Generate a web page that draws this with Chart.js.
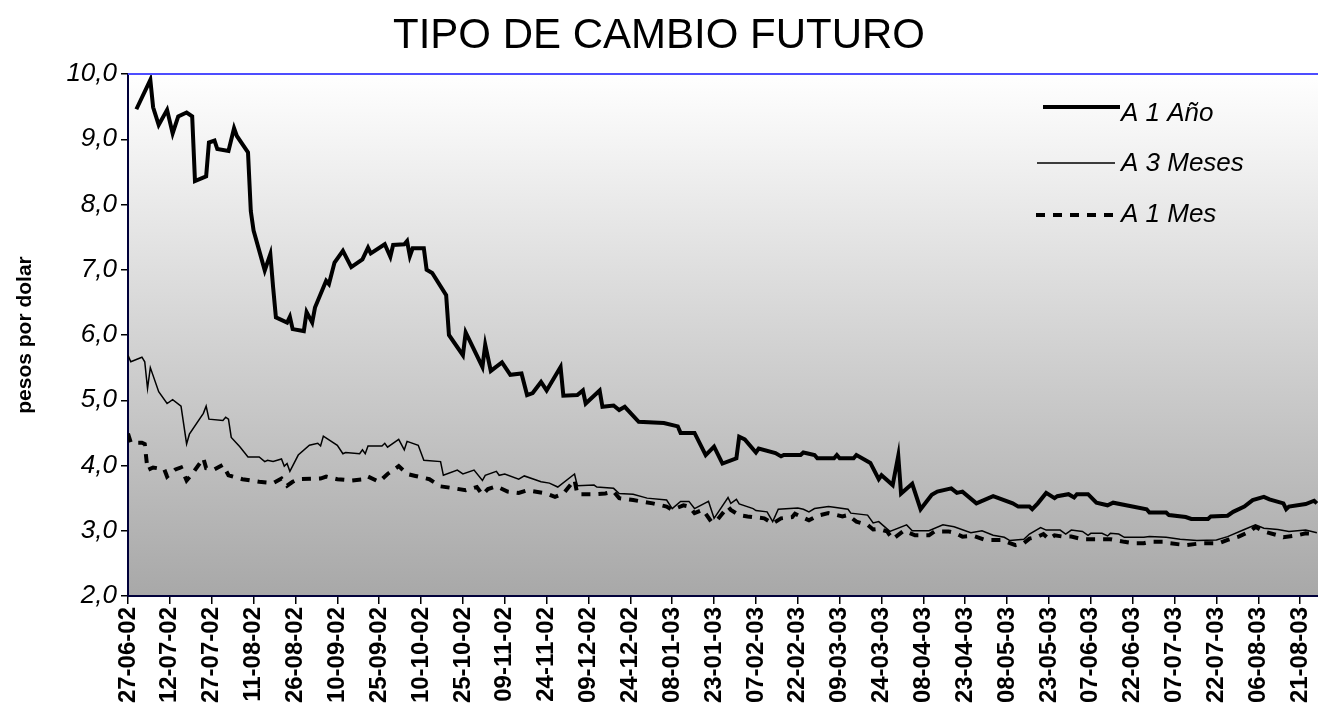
<!DOCTYPE html>
<html>
<head>
<meta charset="utf-8">
<title>Tipo de cambio futuro</title>
<script src="https://cdn.jsdelivr.net/npm/chart.js@4.4.1/dist/chart.umd.min.js"></script>
<style>
    html, body { margin: 0; padding: 0; background: #ffffff; }
    canvas { display: block; }
</style>
</head>
<body>
<canvas id="tipoCambioChart" width="1318" height="717"></canvas>
<script>
const titulo = "TIPO DE CAMBIO FUTURO";
const tituloEje = "pesos por dolar";

// etiquetas del eje x, una cada 15 dias desde el 27-06-02
const etiquetasFecha = [
    "27-06-02", "12-07-02", "27-07-02", "11-08-02", "26-08-02", "10-09-02",
    "25-09-02", "10-10-02", "25-10-02", "09-11-02", "24-11-02", "09-12-02",
    "24-12-02", "08-01-03", "23-01-03", "07-02-03", "22-02-03", "09-03-03",
    "24-03-03", "08-04-03", "23-04-03", "08-05-03", "23-05-03", "07-06-03",
    "22-06-03", "07-07-03", "22-07-03", "06-08-03", "21-08-03"
];

const nombresSeries = ["A 1 Año", "A 3 Meses", "A 1 Mes"];

// [dias desde 27-06-02, pesos por dolar]
const serieAnio = [
    [3,9.46],[8,9.91],[9,9.49],[11,9.22],[14,9.45],[16,9.09],[18,9.35],[21,9.41],[23,9.35],[24,8.36],
    [28,8.43],[29,8.95],[31,8.98],[32,8.85],[36,8.82],[38,9.17],[39,9.05],[43,8.80],[44,7.90],[45,7.60],
    [49,6.99],[51,7.24],[52,6.73],[53,6.27],[57,6.19],[58,6.28],[59,6.09],[63,6.06],[64,6.35],[66,6.19],
    [67,6.42],[71,6.83],[72,6.78],[74,7.11],[77,7.29],[80,7.04],[84,7.16],[86,7.34],[87,7.25],[92,7.39],
    [94,7.20],[95,7.38],[99,7.39],[100,7.44],[101,7.21],[102,7.33],[106,7.33],[107,7.00],[109,6.95],[114,6.61],
    [115,6.00],[120,5.69],[121,6.04],[127,5.51],[128,5.85],[130,5.45],[134,5.58],[137,5.39],[141,5.41],[143,5.08],
    [145,5.11],[148,5.28],[150,5.15],[155,5.51],[156,5.07],[161,5.08],[163,5.15],[164,4.95],[169,5.15],[170,4.90],
    [174,4.92],[176,4.85],[178,4.90],[183,4.67],[192,4.65],[197,4.60],[198,4.50],[203,4.50],[207,4.16],[210,4.29],
    [213,4.03],[218,4.11],[219,4.44],[221,4.40],[225,4.20],[226,4.26],[232,4.19],[234,4.14],[235,4.16],[241,4.16],
    [242,4.20],[246,4.16],[247,4.11],[253,4.11],[254,4.16],[255,4.11],[260,4.11],[261,4.16],[266,4.04],[269,3.79],
    [270,3.85],[274,3.70],[276,4.15],[277,3.57],[281,3.72],[284,3.33],[288,3.55],[290,3.60],[295,3.65],[297,3.58],
    [299,3.60],[304,3.42],[310,3.53],[317,3.42],[319,3.37],[323,3.37],[324,3.33],[326,3.42],[329,3.58],[332,3.50],
    [333,3.53],[337,3.56],[339,3.51],[340,3.56],[344,3.56],[347,3.43],[351,3.39],[353,3.43],[359,3.38],[365,3.33],
    [366,3.28],[372,3.28],[373,3.24],[379,3.21],[381,3.18],[387,3.18],[388,3.22],[394,3.23],[396,3.29],[400,3.37],
    [403,3.47],[407,3.52],[409,3.48],[414,3.42],[415,3.33],[416,3.37],[422,3.41],[425,3.46],[426,3.42]
];

const serieTresMeses = [
    [0,5.69],[1,5.59],[5,5.66],[6,5.59],[7,5.18],[8,5.50],[11,5.13],[14,4.95],[16,5.01],[19,4.91],
    [21,4.33],[22,4.48],[27,4.80],[28,4.91],[29,4.71],[34,4.69],[35,4.74],[36,4.71],[37,4.43],[40,4.29],
    [43,4.13],[47,4.13],[49,4.06],[50,4.08],[52,4.06],[55,4.10],[56,3.99],[57,4.03],[58,3.91],[61,4.16],
    [65,4.31],[68,4.34],[69,4.30],[70,4.45],[75,4.31],[77,4.18],[78,4.20],[83,4.18],[84,4.24],[85,4.18],
    [86,4.30],[91,4.30],[92,4.34],[93,4.28],[97,4.40],[99,4.24],[100,4.37],[104,4.31],[106,4.08],[112,4.06],
    [113,3.85],[118,3.93],[120,3.87],[124,3.93],[127,3.77],[128,3.85],[132,3.91],[133,3.85],[135,3.87],[140,3.79],
    [142,3.84],[148,3.75],[151,3.73],[154,3.67],[160,3.87],[161,3.69],[167,3.70],[168,3.67],[174,3.65],[176,3.57],
    [181,3.56],[186,3.50],[193,3.47],[195,3.34],[198,3.45],[201,3.45],[203,3.34],[208,3.45],[210,3.19],[215,3.51],
    [216,3.42],[218,3.48],[219,3.41],[224,3.34],[225,3.31],[229,3.29],[231,3.14],[233,3.33],[240,3.35],[242,3.33],
    [244,3.29],[246,3.34],[251,3.37],[253,3.36],[258,3.33],[259,3.27],[265,3.24],[267,3.12],[269,3.14],[273,2.99],
    [279,3.09],[281,3.00],[287,3.00],[292,3.09],[296,3.06],[302,2.97],[306,3.00],[310,2.93],[314,2.90],[316,2.85],
    [321,2.87],[323,2.95],[327,3.05],[329,3.01],[334,3.01],[336,2.95],[338,3.01],[342,2.99],[344,2.93],[345,2.96],
    [349,2.96],[351,2.92],[352,2.96],[355,2.95],[357,2.90],[364,2.90],[366,2.91],[372,2.90],[377,2.87],[383,2.85],
    [390,2.86],[394,2.91],[400,3.02],[404,3.09],[407,3.04],[412,3.02],[416,2.99],[422,3.01],[426,2.97]
];

const serieUnMes = [
    [0,4.49],[1,4.35],[5,4.35],[6,4.33],[7,3.93],[9,3.97],[13,3.94],[14,3.83],[17,3.94],[19,3.97],
    [21,3.77],[23,3.87],[27,4.11],[28,3.96],[31,3.94],[34,4.01],[36,3.85],[41,3.79],[47,3.75],[52,3.73],
    [55,3.80],[57,3.69],[59,3.75],[61,3.79],[69,3.80],[71,3.83],[75,3.79],[80,3.77],[85,3.79],[86,3.83],
    [90,3.75],[93,3.87],[97,3.99],[100,3.87],[103,3.84],[105,3.82],[108,3.79],[112,3.68],[117,3.65],[121,3.62],
    [125,3.67],[127,3.55],[129,3.64],[132,3.68],[136,3.60],[140,3.58],[143,3.62],[150,3.57],[153,3.52],[156,3.57],
    [160,3.78],[161,3.56],[167,3.56],[171,3.57],[174,3.60],[176,3.50],[181,3.47],[188,3.42],[193,3.37],[195,3.32],
    [199,3.39],[201,3.37],[203,3.27],[206,3.32],[209,3.14],[211,3.16],[215,3.37],[216,3.32],[219,3.24],[222,3.22],
    [228,3.19],[231,3.11],[234,3.19],[238,3.21],[239,3.26],[244,3.16],[247,3.23],[251,3.27],[256,3.22],[258,3.24],
    [261,3.14],[265,3.09],[267,3.02],[269,3.03],[272,2.99],[274,2.87],[278,3.00],[282,2.93],[287,2.93],[289,2.99],
    [294,2.99],[296,2.97],[299,2.91],[303,2.92],[307,2.86],[313,2.86],[316,2.81],[318,2.78],[321,2.81],[323,2.88],
    [326,2.91],[328,2.95],[330,2.87],[332,2.93],[335,2.91],[338,2.91],[342,2.87],[352,2.87],[357,2.83],[360,2.81],
    [364,2.81],[366,2.83],[371,2.83],[373,2.81],[379,2.78],[385,2.81],[391,2.81],[394,2.86],[398,2.91],[402,2.99],
    [404,3.06],[407,2.99],[412,2.93],[414,2.90],[419,2.93],[422,2.96],[426,2.95]
];

const FUENTE = '"Liberation Sans", Arial, Helvetica, sans-serif';

function toPoints(serie){
    return serie.map(p => ({ x: p[0], y: p[1] }));
}

// fondo degradado del area de trazado y borde superior azul
const fondoPlugin = {
    id: 'fondo',
    beforeDraw(chart){
        const { ctx, chartArea: a } = chart;
        const g = ctx.createLinearGradient(0, a.top, 0, a.bottom);
        g.addColorStop(0, '#ffffff');
        g.addColorStop(1, '#a8a8a8');
        ctx.save();
        ctx.fillStyle = g;
        ctx.fillRect(a.left, a.top, a.right - a.left, a.bottom - a.top);
        ctx.restore();
    },
    afterDraw(chart){
        const { ctx, chartArea: a } = chart;
        ctx.save();
        ctx.strokeStyle = '#4d4dff';
        ctx.lineWidth = 2;
        ctx.beginPath();
        ctx.moveTo(a.left, a.top);
        ctx.lineTo(a.right, a.top);
        ctx.stroke();
        ctx.restore();
    }
};

// leyenda dentro del grafico, linea a la izquierda del texto
const leyendaPlugin = {
    id: 'leyendaInterna',
    afterDraw(chart){
        const ctx = chart.ctx;
        const filas = [
            { x0: 1043, x1: 1120, yl: 107, yt: 114 },
            { x0: 1037, x1: 1115, yl: 163, yt: 164 },
            { x0: 1036, x1: 1117, yl: 215, yt: 215 }
        ];
        ctx.save();
        chart.data.datasets.forEach((ds, i) => {
            const f = filas[i];
            ctx.strokeStyle = ds.borderColor;
            ctx.lineWidth = ds.borderWidth;
            ctx.setLineDash(ds.borderDash || []);
            ctx.beginPath();
            ctx.moveTo(f.x0, f.yl);
            ctx.lineTo(f.x1, f.yl);
            ctx.stroke();
            ctx.setLineDash([]);
            ctx.fillStyle = '#000';
            ctx.font = 'italic 26px ' + FUENTE;
            ctx.textAlign = 'left';
            ctx.textBaseline = 'middle';
            ctx.fillText(ds.label, 1121, f.yt);
        });
        ctx.restore();
    }
};

const ctx = document.getElementById('tipoCambioChart').getContext('2d');

new Chart(ctx, {
    type: 'line',
    data: {
        datasets: [
            {
                label: nombresSeries[0],
                data: toPoints(serieAnio),
                borderColor: '#000000',
                borderWidth: 4,
                pointRadius: 0,
                tension: 0
            },
            {
                label: nombresSeries[1],
                data: toPoints(serieTresMeses),
                borderColor: '#000000',
                borderWidth: 1.5,
                pointRadius: 0,
                tension: 0
            },
            {
                label: nombresSeries[2],
                data: toPoints(serieUnMes),
                borderColor: '#000000',
                borderWidth: 4,
                borderDash: [9, 8],
                pointRadius: 0,
                tension: 0
            }
        ]
    },
    options: {
        responsive: false,
        animation: false,
        layout: { padding: 0 },
        plugins: {
            legend: { display: false },
            tooltip: { enabled: false },
            title: {
                display: true,
                text: titulo,
                color: '#000',
                font: { family: FUENTE, size: 42, weight: 'normal' },
                padding: { top: 11, bottom: 12.6 }
            }
        },
        scales: {
            x: {
                type: 'linear',
                min: 0,
                max: 426.4,
                grid: { drawOnChartArea: false, drawTicks: true, tickLength: 8, color: '#000', lineWidth: 1.5 },
                border: { color: '#00003a', width: 2 },
                ticks: {
                    stepSize: 15,
                    includeBounds: false,
                    autoSkip: false,
                    minRotation: 90,
                    maxRotation: 90,
                    padding: 3,
                    color: '#000',
                    font: { family: FUENTE, size: 24, weight: 'bold' },
                    callback: function(value){
                        const i = Math.round(value / 15);
                        return etiquetasFecha[i] || '';
                    }
                },
                afterFit: function(scale){
                    scale.height = 121;
                    scale.paddingLeft = 0;
                    scale.paddingRight = 0;
                }
            },
            y: {
                min: 2,
                max: 10,
                grid: { drawOnChartArea: false, drawTicks: true, tickLength: 7, color: '#000', lineWidth: 1.5 },
                border: { color: '#00003a', width: 2 },
                ticks: {
                    stepSize: 1,
                    padding: 4,
                    color: '#000',
                    font: { family: FUENTE, size: 26, style: 'italic' },
                    callback: function(value){
                        return value.toFixed(1).replace('.', ',');
                    }
                },
                title: {
                    display: true,
                    text: tituloEje,
                    color: '#000',
                    font: { family: FUENTE, size: 21, weight: 'bold' },
                    padding: { top: 13, bottom: 0 }
                },
                afterFit: function(scale){ scale.width = 128; }
            }
        }
    },
    plugins: [fondoPlugin, leyendaPlugin]
});
</script>
</body>
</html>
